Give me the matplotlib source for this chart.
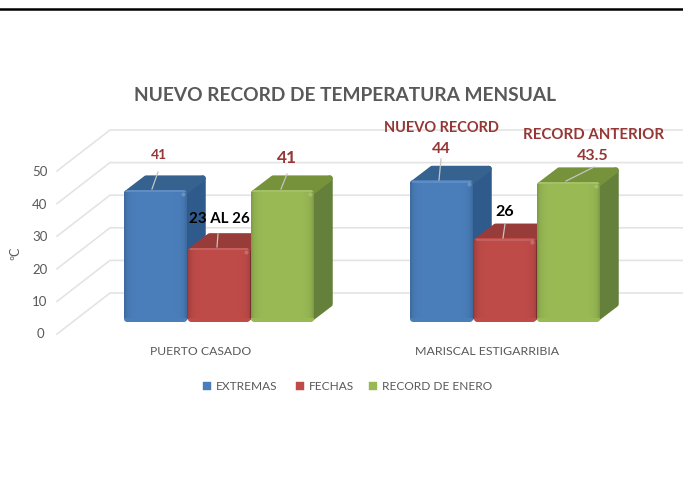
import numpy as np
import matplotlib
matplotlib.use('Agg')
import matplotlib.pyplot as plt

plt.rcParams['font.family'] = ['Lato', 'DejaVu Sans']

# datos
estaciones = ['PUERTO CASADO', 'MARISCAL ESTIGARRIBIA']
series = ['EXTREMAS', 'FECHAS', 'RECORD DE ENERO']
extremas = [41, 44]
fechas = [23, 26]
record_enero = [41, 43.5]
valores = [extremas, fechas, record_enero]
ticks_y = [0, 10, 20, 30, 40, 50]

col_frente = ['#4a7ebb', '#be4b48', '#98b954']
col_lado = ['#2f5a8c', '#8c3835', '#64803a']
col_arriba = ['#36628f', '#983c39', '#76933c']
rojo = '#953735'
gris = '#595959'

W, H = 683, 489
fig = plt.figure(figsize=(W / 100, H / 100), dpi=100)
ax = fig.add_axes([0, 0, 1, 1])

# escala: 286 px entre grupos, 3.21 px por grado
PX_X = 286.0
PX_Y = 3.21
X0 = 219.0
Y0 = 322.5
ax.axis('off')


def px(x):
    return (x - X0) / PX_X


def py(y):
    return (Y0 - y) / PX_Y


def dx(p):
    return p / PX_X


def dy(p):
    return p / PX_Y


# linea negra superior
ax.plot([px(0), px(W)], [py(9.5)] * 2, color='black', lw=1.8)

# rejilla en perspectiva (la pared del fondo tiene otra escala)
for t in ticks_y:
    yb = py(294 - t * 3.26)
    ax.plot([px(57), px(110), px(W)], [yb - dy(41), yb, yb], color='#e4e4e4', lw=1.2,
            solid_joinstyle='round', zorder=1)
    ax.text(px(40), py(334.5 - t * 3.24), str(t), color=gris, fontsize=9.5, ha='center', va='center')

ax.text(px(15), py(253), 'ºC', color=gris, fontsize=9, rotation=90, ha='center', va='center')

# barras con falsa perspectiva
ancho = 63.5 / PX_X
prof_x = dx(19)
prof_y = dy(14.5)
r = 3
rx = dx(r)
ry = dy(r)
lw_r = 2 * r * 0.72
bordes = np.arange(64)
dist = np.minimum(bordes, bordes[::-1]) / 64 * 60
alpha = 0.16 * np.exp(-dist / 3)
for i in range(3):
    for g in range(2):
        v = valores[i][g]
        x1 = g + (i - 1.5) * ancho + dx(0.5)
        x2 = x1 + ancho - dx(1)
        z = 3 + i
        # lado derecho
        ax.fill([x2 - rx, x2 + prof_x - rx, x2 + prof_x - rx, x2 - rx],
                [ry, prof_y + ry, v + prof_y - ry, v - ry],
                color=col_lado[i], lw=lw_r, joinstyle='round', zorder=z)
        # cara superior
        ax.fill([x1 + rx, x2 - rx, x2 + prof_x - rx, x1 + prof_x + rx],
                [v - ry, v - ry, v + prof_y - ry, v + prof_y - ry],
                color=col_arriba[i], lw=lw_r, joinstyle='round', zorder=z)
        # frente
        ax.fill([x1 + rx, x2 - rx, x2 - rx, x1 + rx], [ry, ry, v - ry, v - ry],
                color=col_frente[i], lw=lw_r, joinstyle='round', zorder=z + 0.1)
        # sombra suave en los bordes
        capa = np.zeros((1, 64, 4))
        capa[..., 3] = alpha
        ax.imshow(capa, extent=[x1, x2, ry, v - ry], aspect='auto',
                  zorder=z + 0.2, interpolation='bilinear')
        # brillo arriba y en la esquina
        ax.plot([x1 + rx, x2 - rx], [v - dy(1.5)] * 2, color='white', alpha=0.12, lw=1.5,
                zorder=z + 0.3)
        ax.plot([x2 - dx(4)], [v - dy(4)], 'o', color='white', alpha=0.2, ms=3, mew=0,
                zorder=z + 0.3)

# guias de las etiquetas
guias = [(152, 190, 158, 173), (217, 248, 218, 235), (281, 190, 287, 175),
         (439, 181, 441, 160), (503, 239, 505, 225), (566, 182, 594, 168)]
for x_a, y_a, x_b, y_b in guias:
    ax.plot([px(x_a), px(x_b)], [py(y_a), py(y_b)], color='#c4c4c4', lw=0.9, zorder=9)

# etiquetas de datos
ax.text(px(159), py(155), '41', color=rojo, fontsize=10, fontweight='bold', ha='center', va='center', zorder=10)
ax.text(px(219), py(219), '23 AL 26', color='black', fontsize=10.8, fontweight='bold', ha='center', va='center', zorder=10)
ax.text(px(287), py(158), '41', color=rojo, fontsize=12.5, fontweight='bold', ha='center', va='center', zorder=10)
ax.text(px(441), py(149), '44', color=rojo, fontsize=11.5, fontweight='bold', ha='center', va='center', zorder=10)
ax.text(px(505), py(212), '26', color='black', fontsize=11.5, fontweight='bold', ha='center', va='center', zorder=10)
ax.text(px(593), py(156), '43.5', color=rojo, fontsize=11.5, fontweight='bold', ha='center', va='center', zorder=10)
ax.text(px(441), py(128), 'NUEVO RECORD', color=rojo, fontsize=10.5, fontweight='bold', ha='center', va='center', zorder=10)
ax.text(px(593.5), py(135), 'RECORD ANTERIOR', color=rojo, fontsize=10.8, fontweight='bold', ha='center', va='center', zorder=10)

# titulo
ax.text(px(344.5), py(96), 'NUEVO RECORD DE TEMPERATURA MENSUAL', color=gris, fontsize=13.8,
        fontweight='bold', ha='center', va='center')

# categorias
ax.text(px(200.5), py(352), estaciones[0], color=gris, fontsize=8.7, ha='center', va='center')
ax.text(px(487), py(352), estaciones[1], color=gris, fontsize=8.9, ha='center', va='center')

# leyenda
pos_ley = [203, 296, 369]
for i in range(3):
    xl = pos_ley[i]
    ax.fill([px(xl), px(xl + 8), px(xl + 8), px(xl)], [py(391), py(391), py(383), py(383)],
            color=col_frente[i], lw=0.3)
    ax.text(px(xl + 12.5), py(386.5), series[i], color=gris, fontsize=8.6, ha='left', va='center')

ax.set_xlim(px(0), px(W))
ax.set_ylim(py(H), py(0))
fig.savefig('out.png', dpi=100, facecolor='white')
